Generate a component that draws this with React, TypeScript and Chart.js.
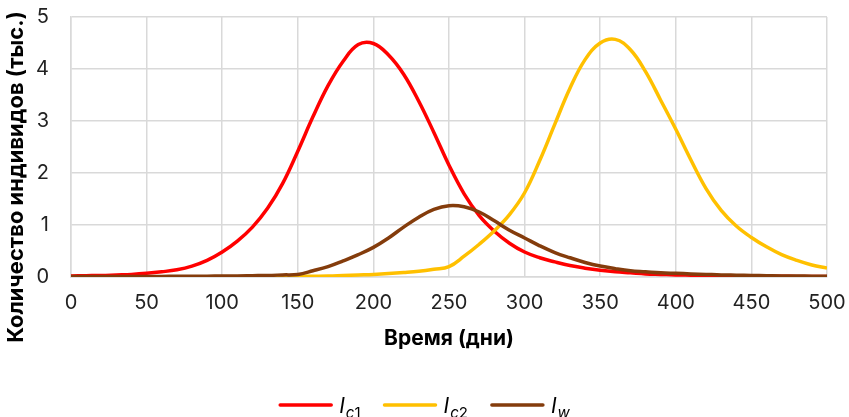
import { useEffect, useRef } from "react";
import { Chart, registerables } from "chart.js";

Chart.register(...registerables);

const days = [0,10,20,30,40,50,60,70,80,90,100,110,120,130,140,150,160,170,180,190,200,210,220,230,240,250,260,270,280,290,300,310,320,330,340,350,360,370,380,390,400,410,420,430,440,450,460,470,480,490,500];
const ic1 = [0.02,0.025,0.03,0.04,0.05,0.07,0.1,0.14,0.21,0.32,0.48,0.69,0.96,1.32,1.8,2.42,3.08,3.68,4.15,4.47,4.49,4.27,3.9,3.38,2.78,2.15,1.6,1.18,0.88,0.65,0.48,0.37,0.29,0.22,0.17,0.13,0.1,0.08,0.06,0.05,0.04,0.035,0.03,0.025,0.02,0.02,0.015,0.015,0.01,0.01,0.01];
const ic2 = [0,0,0,0,0,0,0,0,0,0,0.005,0.005,0.005,0.01,0.01,0.01,0.015,0.02,0.03,0.04,0.05,0.065,0.085,0.11,0.15,0.2,0.4,0.63,0.89,1.2,1.62,2.24,2.94,3.63,4.18,4.5,4.57,4.37,3.95,3.4,2.84,2.25,1.7,1.28,0.98,0.76,0.58,0.43,0.32,0.23,0.17];
const iw = [0.01,0.01,0.01,0.01,0.01,0.01,0.01,0.015,0.015,0.015,0.02,0.02,0.025,0.03,0.04,0.05,0.12,0.2,0.31,0.43,0.57,0.75,0.96,1.15,1.3,1.37,1.35,1.25,1.08,0.9,0.75,0.6,0.47,0.37,0.28,0.21,0.16,0.12,0.1,0.08,0.07,0.06,0.05,0.04,0.035,0.03,0.025,0.02,0.02,0.015,0.015];

const seriesNames = [
  { main: "I", sub: "c", num: "1" },
  { main: "I", sub: "c", num: "2" },
  { main: "I", sub: "w", num: "" },
];
const colors = ["#ff0000", "#ffc000", "#843c0c"];
const xTitle = "Время (дни)";
const yTitle = "Количество индивидов (тыс.)";
const FONT = "Inter, Roboto, sans-serif";

const toPts = (ys: number[]) => ys.map((y, i) => ({ x: days[i], y }));

export default function App() {
  const ref = useRef<HTMLCanvasElement>(null);
  useEffect(() => {
    if (!ref.current) return;
    const yTitlePlugin = {
      id: "yTitle",
      afterDraw(chart: any) {
        const ctx = chart.ctx;
        ctx.save();
        ctx.translate(16, 177);
        ctx.rotate(-Math.PI / 2);
        ctx.font = `bold 22px ${FONT}`;
        ctx.fillStyle = "#000";
        ctx.textAlign = "center";
        ctx.textBaseline = "middle";
        ctx.fillText(yTitle, 0, 0);
        ctx.restore();
      },
    };
    const legendPlugin = {
      id: "customLegend",
      afterDraw(chart: any) {
        const ctx = chart.ctx;
        ctx.save();
        const mainFont = `italic 21px ${FONT}`;
        const subFontI = `italic 15px ${FONT}`;
        const subFontN = `15px ${FONT}`;
        const sample = 53, gapText = 7, gapItem = 23;
        const widths = seriesNames.map((n) => {
          ctx.font = mainFont;
          let w = ctx.measureText(n.main).width + 1;
          ctx.font = subFontI;
          w += ctx.measureText(n.sub).width;
          ctx.font = subFontN;
          w += ctx.measureText(n.num).width;
          return sample + gapText + w;
        });
        const total = widths.reduce((a, b) => a + b, 0) + gapItem * (widths.length - 1);
        let x = chart.width / 2 - total / 2;
        const y = 405;
        seriesNames.forEach((n, i) => {
          ctx.strokeStyle = colors[i];
          ctx.lineWidth = 3.5;
          ctx.lineCap = "round";
          ctx.beginPath();
          ctx.moveTo(x + 1, y);
          ctx.lineTo(x + sample - 1, y);
          ctx.stroke();
          let tx = x + sample + gapText;
          ctx.fillStyle = "#000";
          ctx.textBaseline = "alphabetic";
          ctx.textAlign = "left";
          ctx.font = mainFont;
          ctx.fillText(n.main, tx, y + 8);
          tx += ctx.measureText(n.main).width + 1;
          ctx.font = subFontI;
          ctx.fillText(n.sub, tx, y + 13);
          tx += ctx.measureText(n.sub).width;
          ctx.font = subFontN;
          ctx.fillText(n.num, tx, y + 13);
          x += widths[i] + gapItem;
        });
        ctx.restore();
      },
    };
    const mk = (data: number[], i: number, order: number) => ({
      label: seriesNames[i].main + seriesNames[i].sub + seriesNames[i].num,
      data: toPts(data),
      borderColor: colors[i],
      backgroundColor: colors[i],
      borderWidth: 3.5,
      pointRadius: 0,
      tension: 0.4,
      fill: false,
      order,
    });
    const chart = new Chart(ref.current, {
      type: "line",
      data: {
        datasets: [mk(ic1, 0, 2), mk(ic2, 1, 1), mk(iw, 2, 0)],
      },
      plugins: [yTitlePlugin, legendPlugin],
      options: {
        animation: false,
        responsive: false,
        maintainAspectRatio: false,
        layout: { padding: { left: 0, right: 22, top: 17, bottom: 0 } },
        plugins: { legend: { display: false }, tooltip: { enabled: false } },
        scales: {
          x: {
            type: "linear",
            min: 0,
            max: 500,
            ticks: { stepSize: 50, padding: 14, color: "#222", font: { family: FONT, size: 20 } },
            grid: { color: "#d9d9d9", lineWidth: 1.5, drawTicks: false },
            border: { color: "#d9d9d9", width: 1.5 },
            title: {
              display: true,
              text: xTitle,
              color: "#000",
              font: { family: FONT, size: 21, weight: "bold" },
              padding: { top: 0, bottom: 66 },
            },
            afterFit: (s: any) => {
              s.height = 140;
              s.paddingLeft = 0;
              s.paddingRight = 0;
            },
          },
          y: {
            min: 0,
            max: 5,
            ticks: { stepSize: 1, padding: 22, color: "#222", font: { family: FONT, size: 20 } },
            grid: { color: "#d9d9d9", lineWidth: 1.5, drawTicks: false },
            border: { color: "#d9d9d9", width: 1.5 },
            afterFit: (s: any) => {
              s.width = 71;
              s.paddingTop = 0;
              s.paddingBottom = 0;
            },
          },
        },
      },
    });
    return () => chart.destroy();
  }, []);
  return (
    <div style={{ position: "fixed", left: 0, top: 0, width: 849, height: 417 }}>
      <canvas ref={ref} width={849} height={417} style={{ width: 849, height: 417, display: "block" }} />
    </div>
  );
}
